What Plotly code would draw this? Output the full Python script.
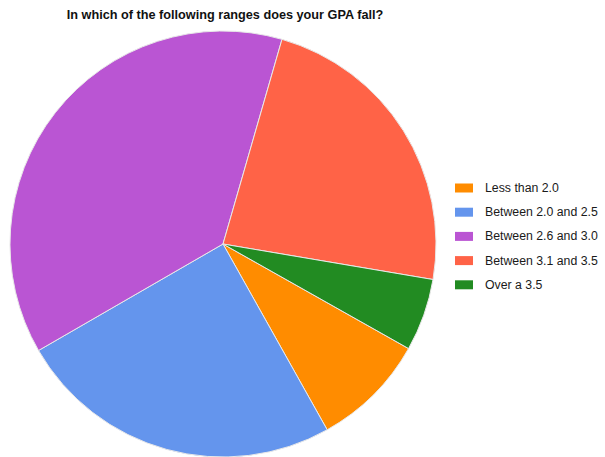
import plotly.graph_objects as go

# GPA range survey results (share of respondents, %)
labels = ["Less than 2.0", "Between 2.0 and 2.5", "Between 2.6 and 3.0",
          "Between 3.1 and 3.5", "Over a 3.5"]
values = [8.7, 24.8, 37.8, 23.2, 5.5]
colors = ["#FF8C00", "#6495ED", "#BA55D3", "#FF6347", "#228B22"]
title_text = "In which of the following ranges does your GPA fall?"

W, H = 605, 457

fig = go.Figure(go.Pie(
    labels=labels,
    values=values,
    sort=False,
    direction="clockwise",
    rotation=119.4,
    marker=dict(colors=colors, line=dict(color="#E8E8E8", width=1)),
    textinfo="none",
    hoverinfo="label+percent",
    showlegend=False,
    domain=dict(x=[9 / W, 437 / W], y=[0, 1 - 31 / H]),
))

# Legend built from rectangles and text on the right side
leg_x0, leg_y0, leg_dy = 455, 188, 24.2
for i, (lab, col) in enumerate(zip(labels, colors)):
    yc = leg_y0 + i * leg_dy
    fig.add_shape(type="rect", xref="paper", yref="paper",
                  x0=leg_x0 / W, x1=(leg_x0 + 18) / W,
                  y0=1 - (yc + 4.5) / H, y1=1 - (yc - 4.5) / H,
                  fillcolor=col, line=dict(width=0))
    fig.add_annotation(x=(leg_x0 + 28) / W, y=1 - yc / H, xref="paper", yref="paper",
                       text=lab, showarrow=False, xanchor="left", yanchor="middle",
                       font=dict(family="Liberation Sans, Arial", size=12.3, color="#1a1a1a"))

fig.update_layout(
    width=W, height=H,
    margin=dict(l=0, r=0, t=0, b=0),
    paper_bgcolor="white",
    plot_bgcolor="white",
    title=dict(text="<b>" + title_text + "</b>", x=225 / W, xanchor="center",
               y=1 - 15 / H, yanchor="middle",
               font=dict(family="Liberation Sans, Arial", size=12.7, color="#111111")),
)

fig.write_html("out.html")
